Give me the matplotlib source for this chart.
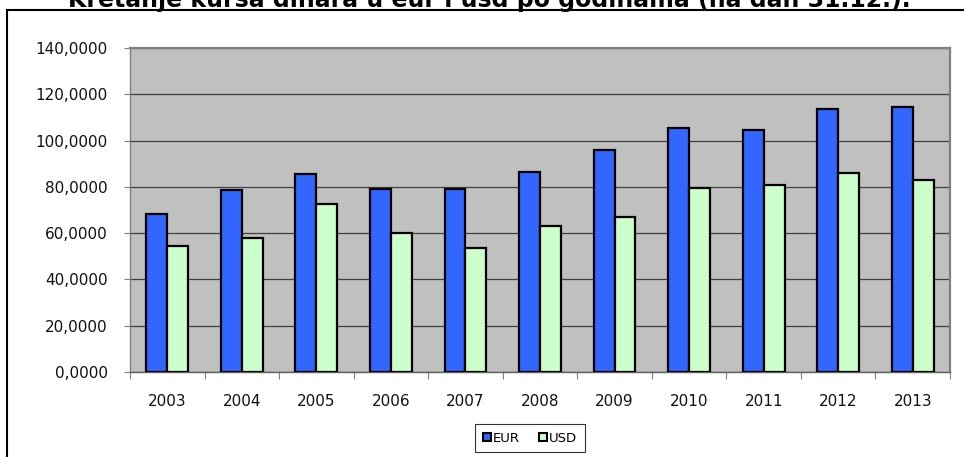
import numpy as np
import matplotlib
matplotlib.use("Agg")
import matplotlib.pyplot as plt
from matplotlib.patches import Rectangle
from matplotlib.ticker import MultipleLocator, FuncFormatter

# ── data ─────────────────────────────────────────────────────────────────────
years = ["2003", "2004", "2005", "2006", "2007", "2008",
         "2009", "2010", "2011", "2012", "2013"]
eur = [68.4, 78.7, 85.5, 78.9, 79.2, 86.5, 96.0, 105.5, 104.6, 113.7, 114.7]
usd = [54.5, 58.0, 72.4, 60.2, 53.7, 62.9, 66.8, 79.3, 80.7, 86.1, 83.0]

title = "Kretanje kursa dinara u eur i usd po godinama (na dan 31.12.)."

W, H = 964, 457
plt.rcParams["font.family"] = ["DejaVu Sans"]

fig = plt.figure(figsize=(W / 100, H / 100), dpi=100)
fig.patch.set_facecolor("white")

# plot area in pixels: x 130..950, y 48..372
ax = fig.add_axes([130 / W, 1 - 372 / H, 820 / W, 324 / H])
ax.set_facecolor("#C0C0C0")

x = np.arange(len(years))
bw = 0.28
ax.bar(x - bw / 2, eur, bw, color="#3366FF", edgecolor="black",
       linewidth=1.6, label="EUR", zorder=3)
ax.bar(x + bw / 2, usd, bw, color="#CCFFCC", edgecolor="black",
       linewidth=1.6, label="USD", zorder=3)

ax.set_xlim(-0.5, len(years) - 0.5)
ax.set_ylim(0, 140)

# y axis
ax.yaxis.set_major_locator(MultipleLocator(20))
ax.yaxis.set_major_formatter(
    FuncFormatter(lambda v, _: f"{v:.4f}".replace(".", ",")))
ax.grid(axis="y", color="#404040", linewidth=0.9, zorder=1)
ax.tick_params(axis="y", direction="out", length=4, width=0.8,
               color="#808080", labelsize=11, pad=12, labelcolor="#111111")

# x axis: labels at centres, tick marks at category boundaries
ax.set_xticks(x)
ax.set_xticklabels(years)
ax.set_xticks(np.arange(-0.5, len(years)), minor=True)
ax.tick_params(axis="x", which="major", length=0, labelsize=11, pad=16,
               labelcolor="#111111")
ax.tick_params(axis="x", which="minor", direction="out", length=5,
               width=0.8, color="#808080")

for side in ("top", "right"):
    ax.spines[side].set_color("#808080")
    ax.spines[side].set_linewidth(1.6)
ax.spines["left"].set_color("#808080")
ax.spines["left"].set_linewidth(1.0)
ax.spines["bottom"].set_color("#606060")
ax.spines["bottom"].set_linewidth(1.0)

# legend
leg = fig.legend(loc="center", bbox_to_anchor=(530 / W, 1 - 438 / H),
                 ncol=2, fontsize=9.5, frameon=True, fancybox=False,
                 handlelength=0.6, handleheight=0.6, handletextpad=0.2,
                 columnspacing=1.4, borderpad=0.6, borderaxespad=0)
leg.get_frame().set_edgecolor("black")
leg.get_frame().set_linewidth(0.8)
for h in leg.legend_handles:
    h.set_linewidth(1.5)

# outer chart frame (cropped at the right and bottom edges)
fig.patches.append(Rectangle((7 / W, -0.1), 1.2, 1 - 10 / H + 0.1,
                             transform=fig.transFigure, fill=False,
                             edgecolor="black", linewidth=1.5, clip_on=False))

# title, mostly cut off at the top edge
fig.text(489.5 / W, 1 - 6.5 / H, title, ha="center", va="baseline",
         fontsize=17, fontweight="bold", color="black")

fig.savefig("out.png", dpi=100)
